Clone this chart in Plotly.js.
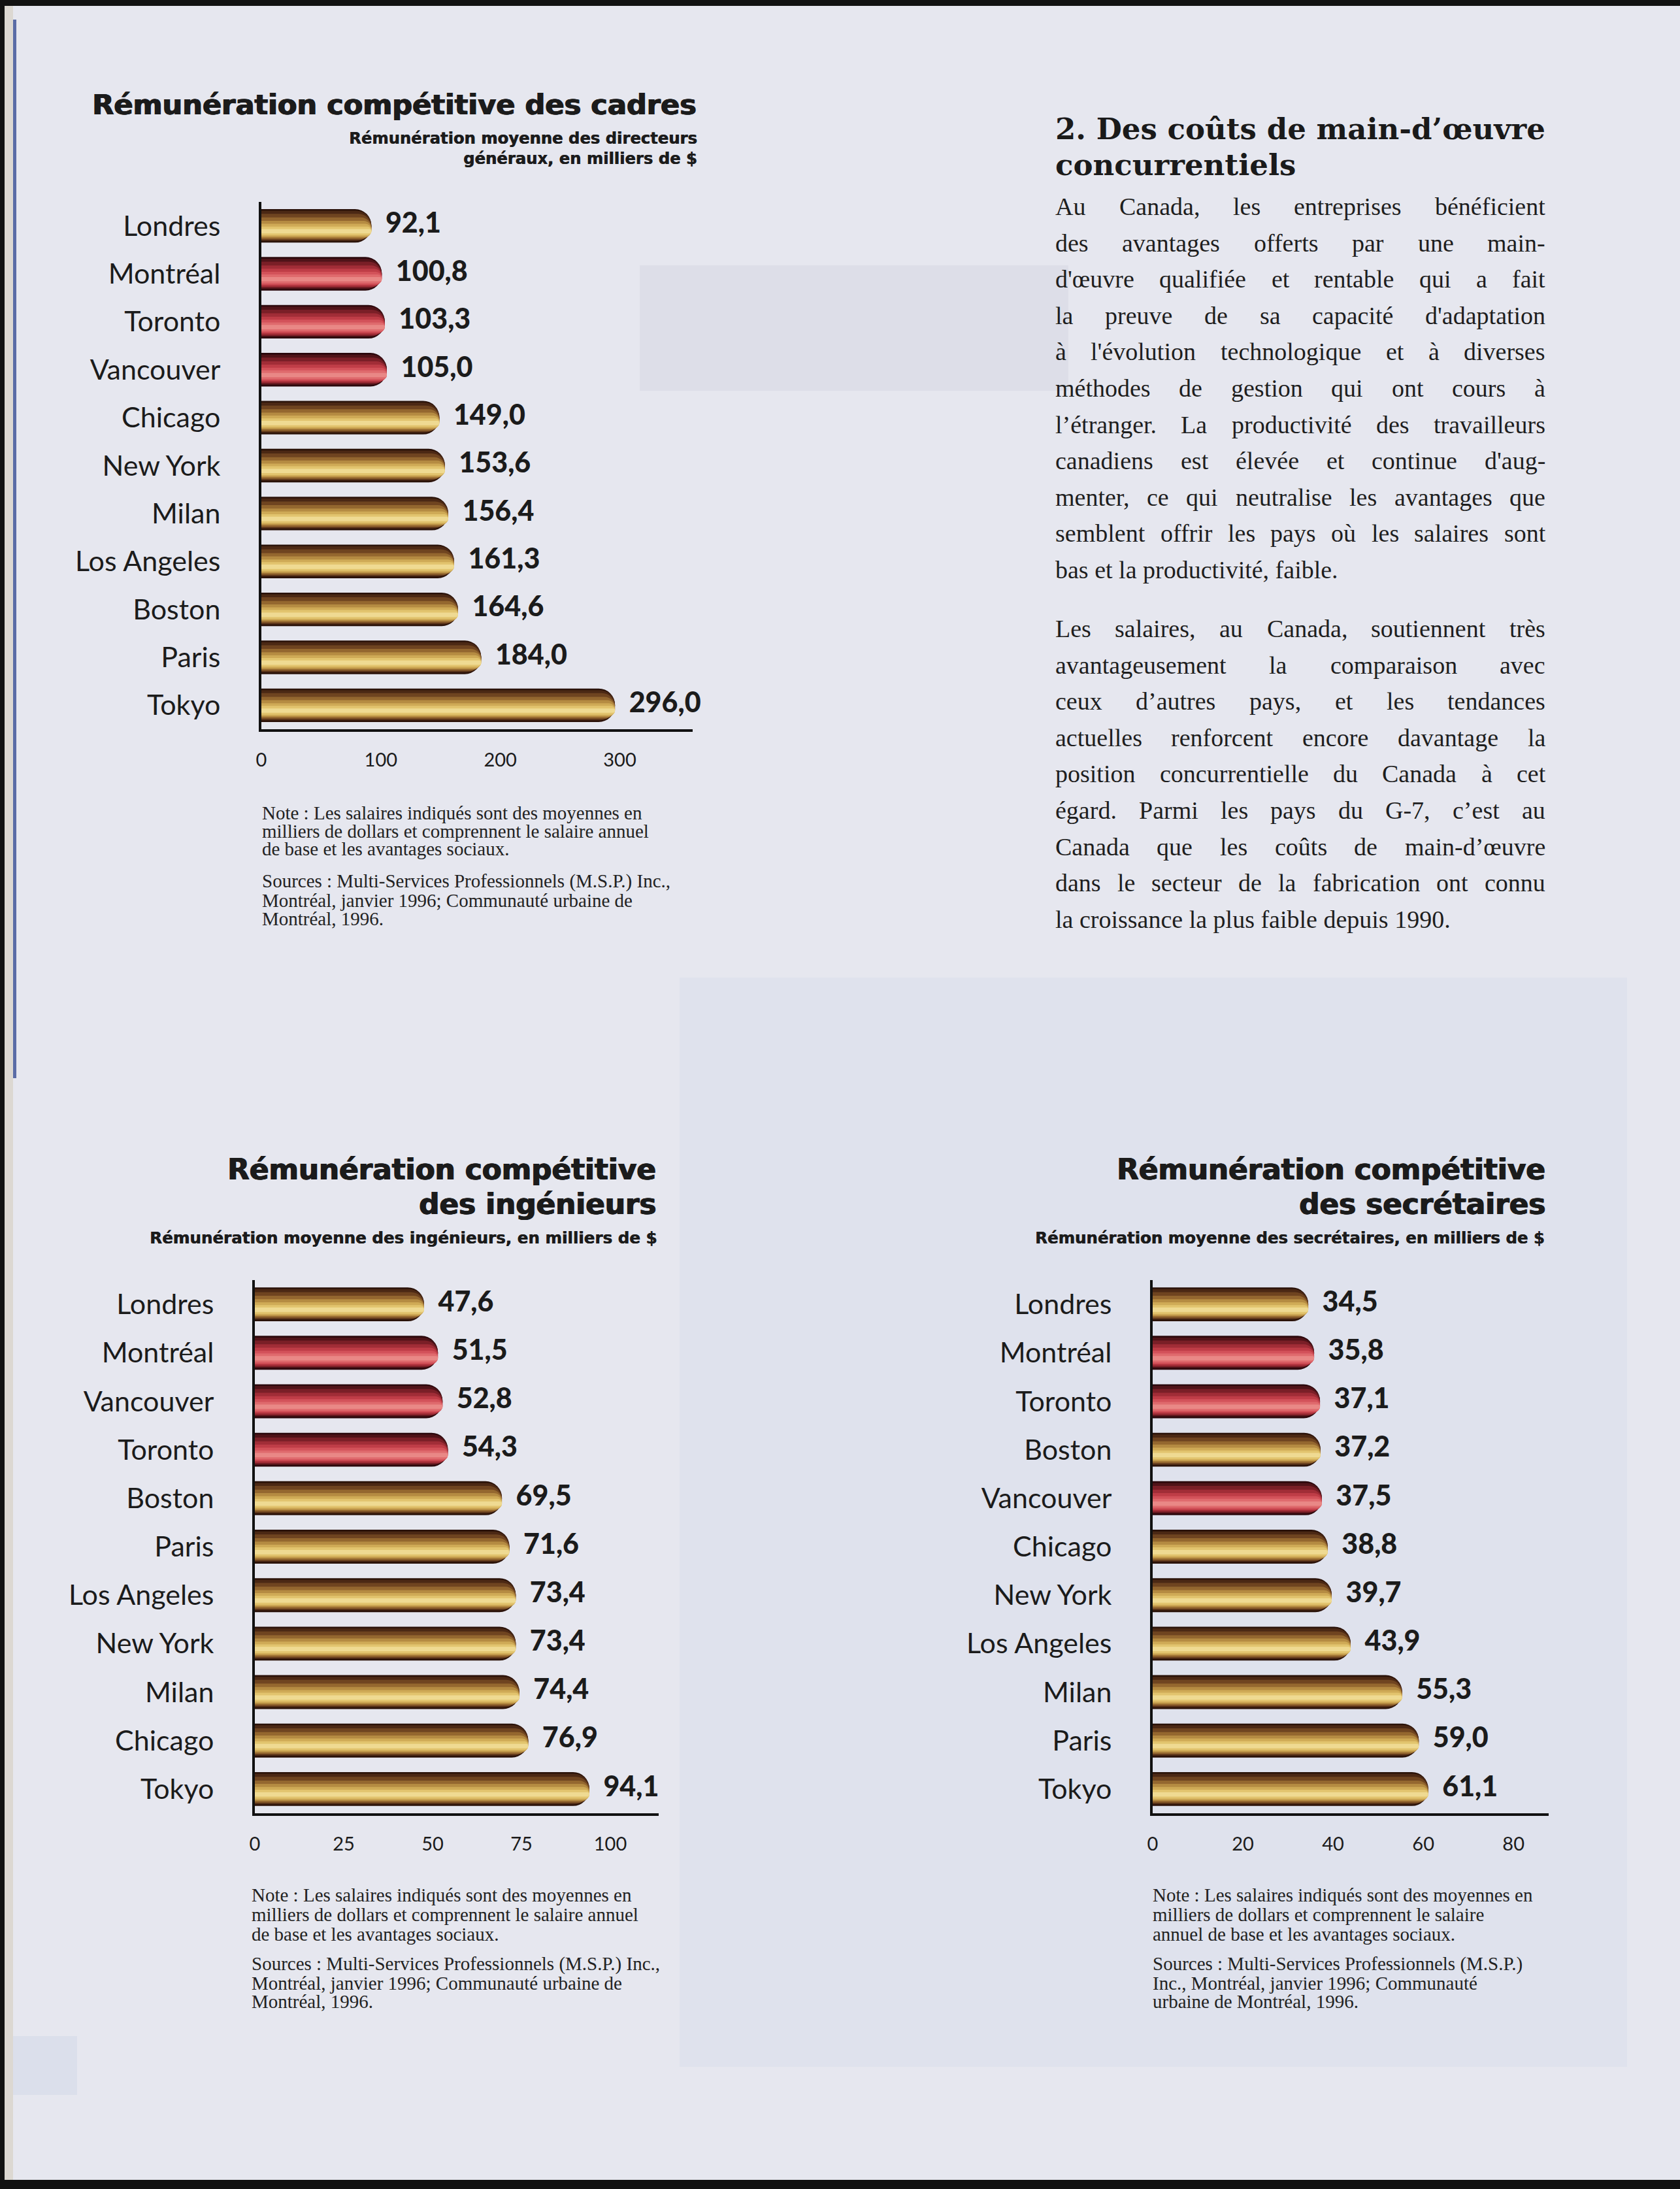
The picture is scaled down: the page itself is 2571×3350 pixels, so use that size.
<!DOCTYPE html>
<html>
<head>
<meta charset="utf-8">
<script src="https://cdn.plot.ly/plotly-3.0.1.min.js"></script>
<style>
html,body{margin:0;padding:0;background:#e6e7ef;}
#chart{width:2571px;height:3350px;}
</style>
</head>
<body>
<div id="chart"></div>
<script>
// ---------------- DATA ----------------
const canadianCities = ['Montréal', 'Toronto', 'Vancouver'];

const citiesCadres = ['Londres','Montréal','Toronto','Vancouver','Chicago','New York','Milan','Los Angeles','Boston','Paris','Tokyo'];
const valuesCadres = [92.1, 100.8, 103.3, 105.0, 149.0, 153.6, 156.4, 161.3, 164.6, 184.0, 296.0];
const ticksCadres = [0, 100, 200, 300];

const citiesIngenieurs = ['Londres','Montréal','Vancouver','Toronto','Boston','Paris','Los Angeles','New York','Milan','Chicago','Tokyo'];
const valuesIngenieurs = [47.6, 51.5, 52.8, 54.3, 69.5, 71.6, 73.4, 73.4, 74.4, 76.9, 94.1];
const ticksIngenieurs = [0, 25, 50, 75, 100];

const citiesSecretaires = ['Londres','Montréal','Toronto','Boston','Vancouver','Chicago','New York','Los Angeles','Milan','Paris','Tokyo'];
const valuesSecretaires = [34.5, 35.8, 37.1, 37.2, 37.5, 38.8, 39.7, 43.9, 55.3, 59.0, 61.1];
const ticksSecretaires = [0, 20, 40, 60, 80];

const titleCadres = 'Rémunération compétitive des cadres';
const subtitleCadres = ['Rémunération moyenne des directeurs', 'généraux, en milliers de $'];
const titleIngenieurs = ['Rémunération compétitive', 'des ingénieurs'];
const subtitleIngenieurs = 'Rémunération moyenne des ingénieurs, en milliers de $';
const titleSecretaires = ['Rémunération compétitive', 'des secrétaires'];
const subtitleSecretaires = 'Rémunération moyenne des secrétaires, en milliers de $';

const noteLinesWide = [
  'Note : Les salaires indiqués sont des moyennes en',
  'milliers de dollars et comprennent le salaire annuel',
  'de base et les avantages sociaux.'
];
const sourceLinesWide = [
  'Sources : Multi-Services Professionnels (M.S.P.) Inc.,',
  'Montréal, janvier 1996; Communauté urbaine de',
  'Montréal, 1996.'
];
const noteLinesNarrow = [
  'Note : Les salaires indiqués sont des moyennes en',
  'milliers de dollars et comprennent le salaire',
  'annuel de base et les avantages sociaux.'
];
const sourceLinesNarrow = [
  'Sources : Multi-Services Professionnels (M.S.P.)',
  'Inc., Montréal, janvier 1996; Communauté',
  'urbaine de Montréal, 1996.'
];

const headingLines = ['2. Des coûts de main-d’œuvre', 'concurrentiels'];
const paragraph1 = [
  'Au Canada, les entreprises bénéficient',
  'des avantages offerts par une main-',
  'd\'œuvre qualifiée et rentable qui a fait',
  'la preuve de sa capacité d\'adaptation',
  'à l\'évolution technologique et à diverses',
  'méthodes de gestion qui ont cours à',
  'l’étranger. La productivité des travailleurs',
  'canadiens est élevée et continue d\'aug-',
  'menter, ce qui neutralise les avantages que',
  'semblent offrir les pays où les salaires sont',
  'bas et la productivité, faible.'
];
const paragraph2 = [
  'Les salaires, au Canada, soutiennent très',
  'avantageusement la comparaison avec',
  'ceux d’autres pays, et les tendances',
  'actuelles renforcent encore davantage la',
  'position concurrentielle du Canada à cet',
  'égard. Parmi les pays du G-7, c’est au',
  'Canada que les coûts de main-d’œuvre',
  'dans le secteur de la fabrication ont connu',
  'la croissance la plus faible depuis 1990.'
];

// ---------------- STYLE / LAYOUT HELPERS ----------------
const W = 2571, H = 3350;
const px = x => x / W;
const py = y => 1 - y / H;
const SANS = 'Lato, "Open Sans", sans-serif';
const HEAVY = '"DejaVu Sans", Lato, sans-serif';
const SERIF = '"Liberation Serif", "Times New Roman", serif';
const HSERIF = '"DejaVu Serif", "Liberation Serif", serif';
const INK = '#1b1b1b';
const EMBOLDEN = '1px 0px 0px #1b1b1b, -0.6px 0px 0px #1b1b1b';
const EMBOLDEN_SM = '0.6px 0px 0px #1b1b1b';

const cv = document.createElement('canvas');
const ctx = cv.getContext('2d');
function textWidth(str, size, family, weight) {
  ctx.font = (weight || 'normal') + ' ' + size + 'px ' + family;
  return ctx.measureText(str).width;
}
function fitSize(str, target, family, weight) {
  return target / textWidth(str, 100, family, weight) * 100;
}
const fmt = v => v.toFixed(1).replace('.', ',');

// bar shading: nested rounded bars (outer dark -> inner highlight)
const T = 0.70;
const layers = [
  {t: 1.00, c: 0.00, gold: '#2a1209', red: '#2b080c'},
  {t: 0.90, c: 0.00, gold: '#4b2814', red: '#4f1318'},
  {t: 0.78, c: 0.03, gold: '#6f4420', red: '#7a1f27'},
  {t: 0.64, c: 0.07, gold: '#94672f', red: '#a12d37'},
  {t: 0.50, c: 0.10, gold: '#b58b42', red: '#bf3d47'},
  {t: 0.38, c: 0.13, gold: '#cfaa56', red: '#d3525a'},
  {t: 0.26, c: 0.15, gold: '#e2c46e', red: '#df6a6d'},
  {t: 0.13, c: 0.16, gold: '#efda92', red: '#e98886'}
];

function barTraces(cities, values, xa, ya) {
  return layers.map(L => ({
    type: 'bar', orientation: 'h', x: values, y: cities, xaxis: xa, yaxis: ya,
    width: L.t * T, offset: -L.t * T / 2 + L.c * T,
    marker: {color: cities.map(c => canadianCities.includes(c) ? L.red : L.gold),
             cornerradius: '50%', line: {width: 0}},
    hoverinfo: 'skip', showlegend: false
  }));
}
function labelTrace(cities, values, xa, ya) {
  return {
    type: 'scatter', mode: 'text', x: values, y: cities, xaxis: xa, yaxis: ya,
    text: values.map(fmt), texttemplate: '\u2002%{text}', textposition: 'middle right',
    textfont: {family: SANS, size: 43, weight: 900, color: INK},
    cliponaxis: false, hoverinfo: 'skip', showlegend: false
  };
}
function xAxis(x0, x1, range, ticks, anchor) {
  return {domain: [px(x0), px(x1)], range: range, anchor: anchor, tickvals: ticks,
    ticktext: ticks.map(String), showline: true, linecolor: '#111', linewidth: 4,
    showgrid: false, zeroline: false, ticks: '', ticklabelstandoff: 18,
    tickfont: {family: SANS, size: 29, color: INK}, fixedrange: true};
}
function yAxis(yTop, yBot, cities, anchor) {
  return {domain: [py(yBot), py(yTop)], type: 'category', categoryorder: 'array',
    categoryarray: cities, range: [cities.length - 0.5, -0.5], anchor: anchor,
    showline: true, linecolor: '#111', linewidth: 4, showgrid: false, zeroline: false,
    ticks: '', ticklabelstandoff: 50, tickfont: {family: SANS, size: 43, color: INK},
    fixedrange: true};
}
function ann(text, x, y, o) {
  return Object.assign({xref: 'paper', yref: 'paper', x: px(x), y: py(y), text: text,
    showarrow: false, xanchor: 'left', yanchor: 'middle', borderpad: 0,
    font: {family: SANS, size: 20, color: INK}}, o || {});
}
// two stacked lines meeting at yMid (line 1 above, line 2 below)
function twoLines(lines, x, yMid, xanchor, font) {
  annotations.push(ann(lines[0], x, yMid, {xanchor: xanchor, yanchor: 'bottom', font: font}));
  annotations.push(ann(lines[1], x, yMid, {xanchor: xanchor, yanchor: 'top', font: font}));
}

// ---------------- TRACES ----------------
const data = [].concat(
  barTraces(citiesCadres, valuesCadres, 'x', 'y'),
  [labelTrace(citiesCadres, valuesCadres, 'x', 'y')],
  barTraces(citiesIngenieurs, valuesIngenieurs, 'x2', 'y2'),
  [labelTrace(citiesIngenieurs, valuesIngenieurs, 'x2', 'y2')],
  barTraces(citiesSecretaires, valuesSecretaires, 'x3', 'y3'),
  [labelTrace(citiesSecretaires, valuesSecretaires, 'x3', 'y3')]
);

// ---------------- ANNOTATIONS ----------------
const annotations = [];
// chart titles
const tSize1 = fitSize(titleCadres, 925, HEAVY, 700);
annotations.push(ann(titleCadres, 1067, 160, {xanchor: 'right',
  font: {family: HEAVY, size: tSize1, weight: 700, color: INK, shadow: EMBOLDEN}}));
const sSize1 = Math.min(25, fitSize(subtitleCadres[0], 533, HEAVY, 700));
twoLines(subtitleCadres, 1068, 227, 'right', {family: HEAVY, size: sSize1, weight: 700, color: INK, shadow: EMBOLDEN_SM});

const tSize2 = Math.min(45, fitSize(titleIngenieurs[0], 656, HEAVY, 700));
const tFont2 = {family: HEAVY, size: tSize2, weight: 700, color: INK, shadow: EMBOLDEN};
twoLines(titleIngenieurs, 1005, 1815.5, 'right', tFont2);
const sSize2 = fitSize(subtitleIngenieurs, 777, HEAVY, 700);
annotations.push(ann(subtitleIngenieurs, 1006, 1894, {xanchor: 'right', font: {family: HEAVY, size: sSize2, weight: 700, color: INK, shadow: EMBOLDEN_SM}}));

twoLines(titleSecretaires, 2366, 1815.5, 'right', tFont2);
const sSize3 = fitSize(subtitleSecretaires, 780, HEAVY, 700);
annotations.push(ann(subtitleSecretaires, 2365, 1894, {xanchor: 'right', font: {family: HEAVY, size: sSize3, weight: 700, color: INK, shadow: EMBOLDEN_SM}}));

// notes
const nSize = Math.min(29, fitSize(noteLinesWide[0], 604, SERIF, 400));
function addNotes(x, ys, lines) {
  lines.forEach((l, i) => annotations.push(ann(l, x, ys[i], {font: {family: SERIF, size: nSize, color: '#222'}})));
}
addNotes(400, [1244, 1272, 1299], noteLinesWide);
addNotes(400, [1349, 1378, 1406], sourceLinesWide);
addNotes(384, [2900, 2930, 2960], noteLinesWide);
addNotes(384, [3005, 3035, 3063], sourceLinesWide);
addNotes(1763, [2900, 2930, 2960], noteLinesNarrow);
addNotes(1763, [3005, 3035, 3063], sourceLinesNarrow);

// heading of text column
const colX = 1614, colW = 750;
const hSize = Math.min(47, fitSize(headingLines[0], colW, HSERIF, 700));
twoLines(headingLines, colX, 224.5, 'left', {family: HSERIF, size: hSize, weight: 700, color: '#1a1a1a'});

// body text, justified word by word
const bSize = 38;
function addParagraph(lines, y0, step) {
  lines.forEach((line, i) => {
    const y = y0 + i * step;
    const last = i === lines.length - 1;
    const words = line.split(' ');
    let size = bSize;
    let widths = words.map(w => textWidth(w, size, SERIF, 'normal'));
    let total = widths.reduce((a, b) => a + b, 0);
    const natural = total + (words.length - 1) * 0.2 * size;
    if (natural > colW) {
      size = size * colW / natural;
      widths = words.map(w => textWidth(w, size, SERIF, 'normal'));
      total = widths.reduce((a, b) => a + b, 0);
    }
    const font = {family: SERIF, size: size, color: '#1e1e1e'};
    if (last) { annotations.push(ann(line, colX, y, {font: font})); return; }
    const gap = words.length > 1 ? (colW - total) / (words.length - 1) : 0;
    let x = colX;
    words.forEach((w, k) => {
      annotations.push(ann(w, x, y, {font: font}));
      x += widths[k] + gap;
    });
  });
}
addParagraph(paragraph1, 316, 55.6);
addParagraph(paragraph2, 962, 55.6);

// ---------------- PAGE SHAPES (scan edges, faint show-through) ----------------
const shapes = [
  {type: 'rect', xref: 'paper', yref: 'paper', x0: px(1040), x1: px(2490), y0: py(3163), y1: py(1496), fillcolor: 'rgba(160,178,218,0.09)', line: {width: 0}, layer: 'below'},
  {type: 'rect', xref: 'paper', yref: 'paper', x0: px(979), x1: px(1635), y0: py(598), y1: py(406), fillcolor: 'rgba(120,125,150,0.08)', line: {width: 0}, layer: 'below'},
  {type: 'rect', xref: 'paper', yref: 'paper', x0: px(10), x1: px(118), y0: py(3206), y1: py(3116), fillcolor: 'rgba(160,178,218,0.16)', line: {width: 0}, layer: 'below'},
  {type: 'rect', xref: 'paper', yref: 'paper', x0: 0, x1: 1, y0: py(9), y1: 1, fillcolor: '#121212', line: {width: 0}},
  {type: 'rect', xref: 'paper', yref: 'paper', x0: 0, x1: 1, y0: 0, y1: py(3336), fillcolor: '#121212', line: {width: 0}},
  {type: 'rect', xref: 'paper', yref: 'paper', x0: 0, x1: px(7), y0: 0, y1: 1, fillcolor: '#121212', line: {width: 0}},
  {type: 'rect', xref: 'paper', yref: 'paper', x0: px(7), x1: px(20), y0: py(3336), y1: py(9), fillcolor: '#dcd8d2', line: {width: 0}},
  {type: 'rect', xref: 'paper', yref: 'paper', x0: px(20), x1: px(25), y0: py(1650), y1: py(30), fillcolor: '#5a6ca6', line: {width: 0}}
];

// ---------------- LAYOUT ----------------
const layout = {
  width: W, height: H, margin: {l: 0, r: 0, t: 0, b: 0, pad: 0},
  paper_bgcolor: '#e6e7ef', plot_bgcolor: 'rgba(0,0,0,0)',
  barmode: 'overlay', showlegend: false, font: {family: SANS, color: INK},
  xaxis: xAxis(400, 1060, [0, 361], ticksCadres, 'y'),
  yaxis: yAxis(309, 1116, citiesCadres, 'x'),
  xaxis2: xAxis(390, 1008, [0, 113.6], ticksIngenieurs, 'y2'),
  yaxis2: yAxis(1959, 2775, citiesIngenieurs, 'x2'),
  xaxis3: xAxis(1764, 2370, [0, 87.8], ticksSecretaires, 'y3'),
  yaxis3: yAxis(1959, 2775, citiesSecretaires, 'x3'),
  annotations: annotations,
  shapes: shapes
};

Plotly.newPlot('chart', data, layout, {displayModeBar: false, staticPlot: true});
</script>
</body>
</html>
